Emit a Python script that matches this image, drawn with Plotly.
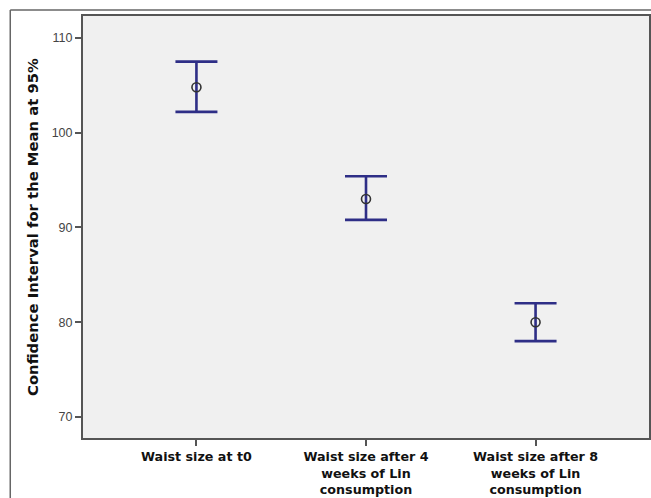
import plotly.graph_objects as go

categories = ["Waist size at t0",
              "Waist size after 4<br>weeks of Lin<br>consumption",
              "Waist size after 8<br>weeks of Lin<br>consumption"]
means = [104.8, 93.0, 80.0]
upper = [107.5, 95.4, 82.0]
lower = [102.2, 90.8, 78.0]

err_plus = [u - m for u, m in zip(upper, means)]
err_minus = [m - l for m, l in zip(means, lower)]

W, H = 651, 498
L, R, T, B = 83, 0, 16, 60
pw, ph = W - L - R, H - T - B

def px(x):
    return (x - L) / pw

def py(y):
    return (H - B - y) / ph

fig = go.Figure()
fig.add_trace(go.Scatter(
    x=[0, 1, 2], y=means, mode="markers",
    marker=dict(symbol="circle-open", size=9, color="#333333", line=dict(width=1.6)),
    error_y=dict(type="data", symmetric=False, array=err_plus, arrayminus=err_minus,
                 color="#2e2e86", thickness=2.6, width=21),
    showlegend=False, hoverinfo="skip"))

fig.add_shape(type="line", xref="paper", yref="paper",
              x0=px(10), x1=px(W + 5), y0=py(10), y1=py(10),
              line=dict(color="#666666", width=1.5))
fig.add_shape(type="line", xref="paper", yref="paper",
              x0=px(10), x1=px(10), y0=py(10), y1=py(H + 5),
              line=dict(color="#666666", width=1.5))

fig.update_layout(
    width=W, height=H, margin=dict(l=L, r=R, t=T, b=B),
    paper_bgcolor="white", plot_bgcolor="#f0f0f0",
    font=dict(family="DejaVu Sans, Arial, sans-serif"),
    xaxis=dict(range=[-0.669, 2.669], tickmode="array", tickvals=[0, 1, 2],
               ticktext=["<b>%s</b>" % c for c in categories],
               showgrid=False, zeroline=False, showline=True, mirror=True,
               linecolor="#555555", linewidth=2, ticks="outside", ticklen=6,
               tickcolor="#555555", tickwidth=1.5,
               tickfont=dict(size=12.7, color="#111111")),
    yaxis=dict(range=[67.78, 112.32], tickvals=[70, 80, 90, 100, 110],
               showgrid=False, zeroline=False, showline=True, mirror=True,
               linecolor="#555555", linewidth=2, ticks="outside", ticklen=6,
               tickcolor="#555555", tickwidth=1.5,
               tickfont=dict(family="Arial, Liberation Sans, sans-serif", size=12.5, color="#444444"),
               title=dict(text="<b>Confidence Interval for the Mean at 95%</b>",
                          font=dict(size=14.8, color="#111111"), standoff=9)),
)

fig.write_html("out.html")
